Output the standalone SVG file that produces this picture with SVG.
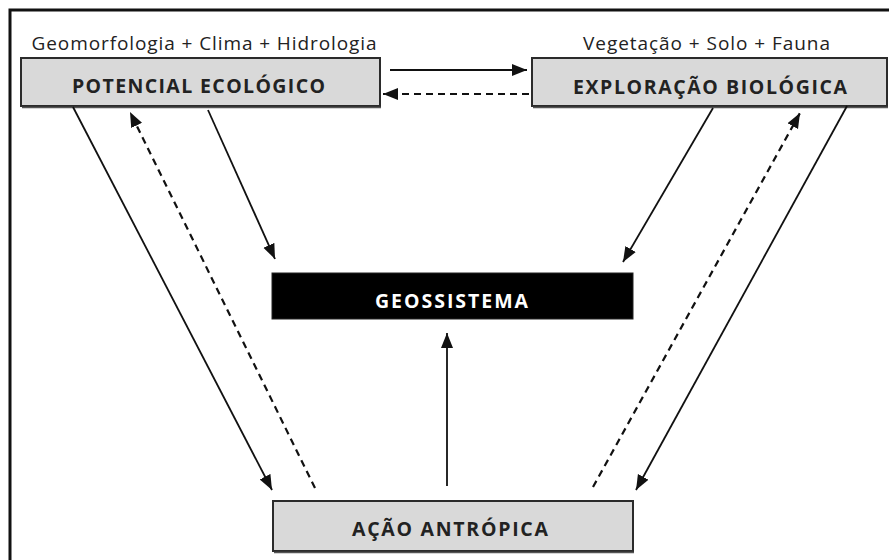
<svg xmlns="http://www.w3.org/2000/svg" width="889" height="560" viewBox="0 0 889 560">
<style>
.box{fill:#d9d9d9;stroke:#2b2b2b;stroke-width:2}
.shadow{fill:none;stroke:#555;stroke-width:1.5}
.lbl{font-family:"Open Sans","Liberation Sans",sans-serif;font-weight:bold;font-size:19.5px;fill:#222;text-anchor:middle}
.cap{font-family:"Open Sans","Liberation Sans",sans-serif;font-size:19px;fill:#222;text-anchor:middle}
.ln{stroke:#111;stroke-width:1.8;fill:none;marker-end:url(#ah)}
.dash{stroke:#111;stroke-width:2.2;fill:none;stroke-dasharray:7 5;marker-end:url(#ah)}
</style>
<defs>
<marker id="ah" markerUnits="userSpaceOnUse" markerWidth="16" markerHeight="14" viewBox="0 0 16 14" refX="15" refY="7" orient="auto">
<path d="M0,1 L15,7 L0,13 Z" fill="#111"/>
</marker>
</defs>
<rect width="889" height="560" fill="#fff"/>
<rect x="10" y="10" width="900" height="580" fill="none" stroke="#111" stroke-width="3"/>

<g id="potencial-ecologico">
<text class="cap" x="204" y="50" textLength="345" lengthAdjust="spacing">Geomorfologia + Clima + Hidrologia</text>
<rect class="box" x="21" y="58" width="359" height="48"/>
<line class="shadow" x1="22" y1="107.5" x2="381" y2="107.5"/>
<text class="lbl" x="198.5" y="93" textLength="253" lengthAdjust="spacing">POTENCIAL ECOLÓGICO</text>
</g>

<g id="exploracao-biologica">
<text class="cap" x="706.5" y="50" textLength="247" lengthAdjust="spacing">Vegetação + Solo + Fauna</text>
<rect class="box" x="532" y="58" width="355" height="48"/>
<line class="shadow" x1="533" y1="107.5" x2="888" y2="107.5"/>
<text class="lbl" x="710" y="94" textLength="274" lengthAdjust="spacing">EXPLORAÇÃO BIOLÓGICA</text>
</g>

<g id="geossistema">
<rect x="272" y="273" width="361" height="46" fill="#000" stroke="#222" stroke-width="1"/>
<text class="lbl" x="451.5" y="308" style="fill:#fff" textLength="153" lengthAdjust="spacing">GEOSSISTEMA</text>
</g>

<g id="acao-antropica">
<rect class="box" x="273" y="501" width="360" height="50"/>
<line class="shadow" x1="274" y1="552.5" x2="634" y2="552.5"/>
<text class="lbl" x="450" y="536" textLength="196" lengthAdjust="spacing">AÇÃO ANTRÓPICA</text>
</g>

<g id="connectors">
<line class="ln" x1="390" y1="70" x2="527" y2="70"/>
<line class="dash" x1="529" y1="94" x2="383" y2="94"/>
<line class="ln" x1="208" y1="110" x2="275" y2="259"/>
<line class="ln" x1="713" y1="108" x2="623" y2="262"/>
<line class="ln" x1="73" y1="107" x2="272" y2="490"/>
<line class="dash" x1="315" y1="488" x2="130" y2="112"/>
<line class="ln" x1="847" y1="106" x2="636" y2="490"/>
<line class="dash" x1="593" y1="487" x2="800" y2="113"/>
<line class="ln" x1="447" y1="486" x2="447" y2="333"/>
</g>
</svg>
